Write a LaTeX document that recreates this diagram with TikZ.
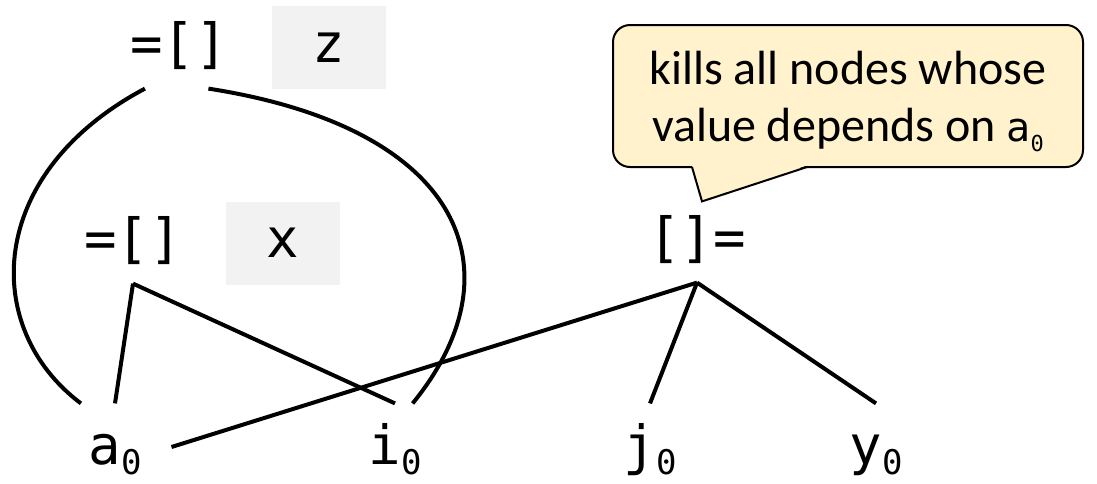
\documentclass[tikz,border=0pt]{standalone}
\usepackage{fontspec}
\setmainfont{Carlito}
\setmonofont{DejaVu Sans Mono}
\usepackage{tikz}
\usepackage{xcolor}
\definecolor{varc}{HTML}{F2F2F2}
\definecolor{notec}{HTML}{FFF2CC}
\newcommand\zsub[1]{\raisebox{-5pt}{\fontsize{#1}{#1}\selectfont\ttfamily 0}}
\tikzset{
  expr/.style={font=\fontsize{27}{27}\selectfont\ttfamily, inner sep=0pt, outer sep=9pt, text height=21.6pt, text depth=4pt},
  leaf/.style={expr, outer sep=4pt, text height=26.6pt, text depth=9pt},
  var/.style={fill=varc, minimum width=57pt, minimum height=41.5pt, inner sep=0pt, font=\fontsize{27}{27}\selectfont\ttfamily},
  branch/.style={line width=2pt},
  note/.style={draw, line width=1pt, fill=notec, rounded corners=8.5pt, minimum width=235pt, minimum height=71pt, inner sep=0pt, text depth=0pt, align=center, font=\fontsize{24}{28.5}\selectfont},
}

\begin{document}
\begin{tikzpicture}[x=0.5pt, y=-0.5pt]
\useasboundingbox (0,0) rectangle (1097,483);
\node[var] (zv) at (329,47.5) {z};
\node[var] (xv) at (283,243) {x};
\node[expr] (t) at (179,45) {=[]};
\node[expr] (m) at (133,240) {=[]};
\node[expr] (r) at (697,239) {[]=};
\node[leaf] (a0) at (115,447) {a\zsub{17}};
\node[leaf] (i0) at (395,447) {i\zsub{17}};
\node[leaf] (j0) at (650,447) {j\zsub{17}};
\node[leaf] (y0) at (876,447) {y\zsub{17}};
\node[note] (n) at (848,96) {kills all nodes whose\\value depends on {\fontsize{20}{20}\selectfont\ttfamily a}\zsub{11}};
\fill[notec] ([xshift=-78pt,yshift=1.3pt]n.south) -- ([shift={(5,6)}]r.north) -- ([xshift=-20.5pt,yshift=1.3pt]n.south) -- cycle;
\draw[line width=1pt] ([xshift=-78pt,yshift=0.5pt]n.south) -- ([shift={(5,6)}]r.north) -- ([xshift=-20.5pt,yshift=0.5pt]n.south);
\draw[branch] (t.232) .. controls +(-160,85) and +(-100,-75) .. (a0.128);
\draw[branch] (t.-56) .. controls +(257,40) and +(107,-131) .. (i0.68);
\draw[branch] (m.south) -- (a0.north);
\draw[branch] (m.south) -- (i0.north);
\draw[branch] (r.south) -- ([xshift=11pt]a0.east);
\draw[branch] (r.south) -- (j0.north);
\draw[branch] (r.south) -- (y0.north);
\end{tikzpicture}
\end{document}
